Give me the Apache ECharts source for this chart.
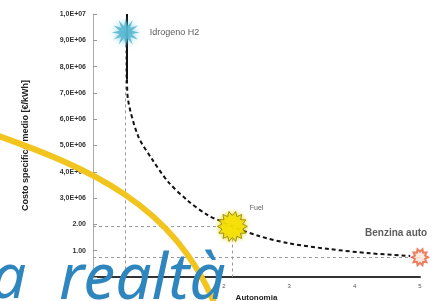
<!DOCTYPE html>
<html>
<head>
<meta charset="utf-8">
<script src="https://cdn.jsdelivr.net/npm/echarts@6/dist/echarts.min.js"></script>
<style>
  html, body { margin: 0; padding: 0; background: #fff; }
  #main { width: 438px; height: 301px; }
</style>
</head>
<body>
<div id="main"></div>
<script>
// values
var yTickLabels = ['', '1.00', '2.00', '3,0E+06', '4,0E+06', '5,0E+06', '6,0E+06', '7,0E+06', '8,0E+06', '9,0E+06', '1,0E+07'];
var xTickLabels = ['', '1', '2', '3', '4', '5'];
var curveTop = [[0.52, 10], [0.52, 7.5]];
var curve = [
  [0.52, 7.5], [0.535, 6.75], [0.69, 5.36], [0.9, 4.49], [1.15, 3.62],
  [1.45, 2.9], [1.76, 2.34], [1.97, 2.11], [2.13, 1.92], [2.55, 1.55],
  [3.0, 1.28], [3.62, 1.06], [4.24, 0.9], [4.85, 0.8]
];
var pointNames = ['Idrogeno H2', 'Fuel', 'Benzina auto'];
var pointValues = [[0.5, 9.3], [2.13, 1.92], [5.0, 0.75]];

// starburst symbol
function burst(n, r1, r2) {
  var d = 'path://';
  for (var i = 0; i < n * 2; i++) {
    var a = Math.PI * i / n;
    var r = i % 2 ? r2 : r1;
    d += (i ? 'L' : 'M') + (50 + r * Math.cos(a)).toFixed(1) + ',' + (50 + r * Math.sin(a)).toFixed(1);
  }
  return d + 'Z';
}

var myChart = echarts.init(document.getElementById('main'));
var guide = { color: '#9a9a9a', type: [3, 3], width: 1 };

var option = {
  animation: false,
  backgroundColor: '#fff',
  grid: { left: 93, right: 18, top: 14, bottom: 24, outerBoundsMode: 'none', containLabel: false },
  xAxis: {
    type: 'value', min: 0, max: 5, interval: 1,
    name: 'Autonomia', nameLocation: 'middle', nameGap: 17,
    nameTextStyle: { fontSize: 8, color: '#222', fontWeight: 'bold' },
    axisLine: { lineStyle: { color: '#333', width: 2 } },
    axisTick: { show: false },
    splitLine: { show: false },
    axisLabel: { fontSize: 6, color: '#555', margin: 6,
      formatter: function (v) { return xTickLabels[Math.round(v)]; } }
  },
  yAxis: {
    type: 'value', min: 0, max: 10, interval: 1,
    name: 'Costo specifico medio [€/kWh]', nameLocation: 'middle', nameGap: 63,
    nameTextStyle: { fontSize: 9, color: '#222', fontWeight: 'bold' },
    axisLine: { show: true, lineStyle: { color: '#aaa', width: 1 } },
    axisTick: { show: true, inside: true, length: 4, lineStyle: { color: '#999' } },
    splitLine: { show: false },
    axisLabel: { fontSize: 7, color: '#333', margin: 7, fontWeight: 'bold',
      formatter: function (v) { return yTickLabels[Math.round(v)]; } }
  },
  series: [
    {
      type: 'line', data: curveTop, symbol: 'none', z: 3,
      lineStyle: { color: '#111', width: 2 }
    },
    {
      type: 'line', data: curve, symbol: 'none', smooth: 0.3, z: 3,
      lineStyle: { color: '#111', width: 2, type: [4, 3] }
    },
    {
      type: 'scatter', z: 5,
      data: [
        { name: pointNames[0], value: pointValues[0], symbol: burst(12, 48, 22), symbolSize: 28,
          itemStyle: { color: '#4fb1cc', shadowBlur: 6, shadowColor: '#7fd0e8' },
          label: { show: true, position: 'right', distance: 10, formatter: '{b}', fontSize: 9, color: '#333' } },
        { name: pointNames[1], value: pointValues[1], symbol: burst(14, 48, 34), symbolSize: 30,
          itemStyle: { color: '#f6e000', borderColor: '#8a7a10', borderWidth: 1, shadowBlur: 4, shadowColor: '#e8d800' },
          label: { show: true, position: [33, -6], formatter: '{b}', fontSize: 7, color: '#333' } },
        { name: pointNames[2], value: pointValues[2], symbol: burst(10, 48, 32), symbolSize: 16,
          itemStyle: { color: '#fbe3d8', borderColor: '#e8603c', borderWidth: 2 },
          label: { show: true, position: [-46, -20], formatter: '{b}', fontSize: 10, fontWeight: 'bold', color: '#333' } }
      ],
      markLine: {
        silent: true, symbol: 'none', label: { show: false }, lineStyle: guide,
        data: [
          [{ coord: [pointValues[0][0], pointValues[0][1]] }, { coord: [pointValues[0][0], 0] }],
          [{ coord: [0, pointValues[1][1]] }, { coord: [pointValues[1][0], pointValues[1][1]] }],
          [{ coord: [pointValues[1][0], pointValues[1][1]] }, { coord: [pointValues[1][0], 0] }],
          [{ coord: [0, pointValues[2][1]] }, { coord: [pointValues[2][0], pointValues[2][1]] }]
        ]
      }
    }
  ],
  graphic: [
    { type: 'bezierCurve', z: 100,
      shape: { x1: -10, y1: 133, cpx1: 90, cpy1: 168, cpx2: 175, cpy2: 205, x2: 215, y2: 305 },
      style: { stroke: '#f2c41e', lineWidth: 6, fill: null } },
    { type: 'text', z: 101, left: -9, top: 249,
      style: { text: 'a', fontSize: 62, fontStyle: 'italic', fontFamily: 'Noto Sans', fill: '#2f86bf' } },
    { type: 'text', z: 101, left: 59, top: 249,
      style: { text: 'realtà', fontSize: 64, fontStyle: 'italic', fontFamily: 'Noto Sans', fill: '#2f86bf' } }
  ]
};
myChart.setOption(option);
</script>
</body>
</html>
